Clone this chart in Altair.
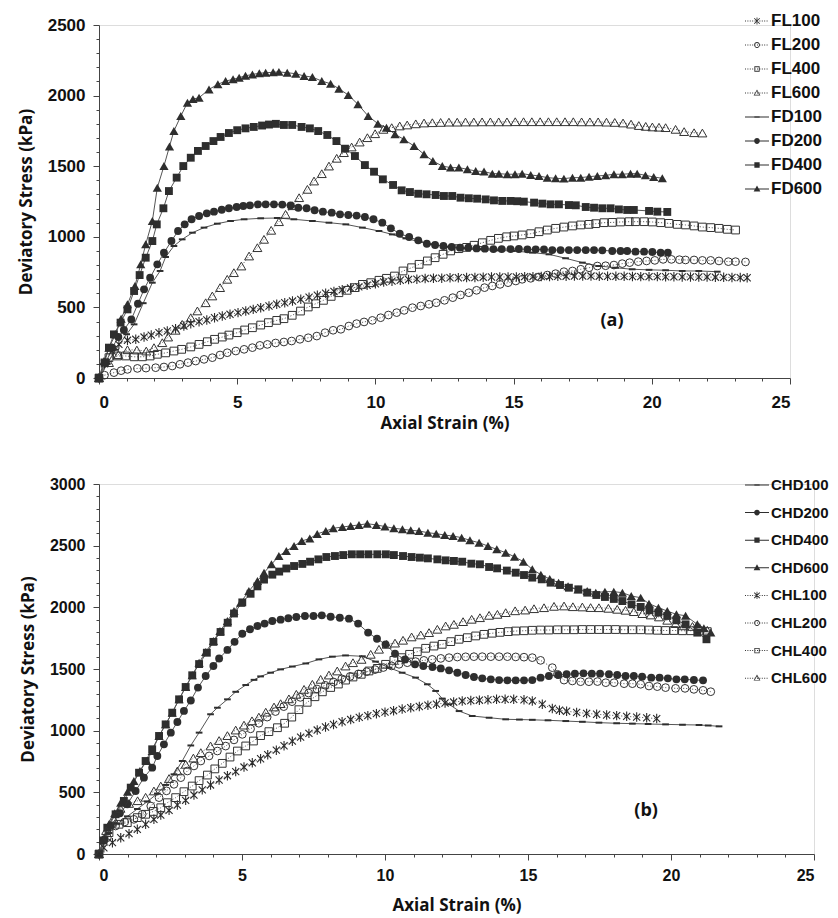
import altair as alt
import pandas as pd

# ---------------- data: panel (a) ----------------
SERIES_A = ["FL100", "FL200", "FL400", "FL600", "FD100", "FD200", "FD400", "FD600"]

FL100 = [(0,0),(0.2,100),(0.48,191),(0.72,238),(1.03,267),(1.33,274),(1.63,290),(1.89,304),(2.17,321),(2.47,333),(2.77,349),(3.07,368),(3.32,385),(3.62,399),(3.9,411),(4.18,427),(4.46,439),(4.74,451),(5.03,463),(5.31,475),(5.58,486),(5.85,498),(6.15,510),(6.43,522),(6.72,533),(7.0,545),(7.3,557),(7.6,572),(7.9,586),(8.2,600),(8.5,613),(8.8,625),(9.1,637),(9.4,645),(9.7,657),(10.0,667),(10.3,680),(10.6,686),(10.9,692),(11.2,698),(11.5,700),(11.8,705),(12.1,706),(12.4,707),(12.7,710),(13.0,710),(13.3,711),(13.6,712),(13.9,714),(14.2,715),(14.5,715),(14.8,716),(15.1,716),(15.4,718),(15.7,718),(16.0,719),(16.3,719),(16.6,720),(16.9,721),(17.2,722),(17.5,722),(17.8,722),(18.1,721),(18.4,720),(18.7,720),(19.0,720),(19.3,719),(19.6,718),(19.9,718),(20.2,718),(20.5,717),(20.8,717),(21.1,716),(21.4,716),(21.7,715),(22.0,715),(22.3,714),(22.6,713),(22.9,712),(23.2,711),(23.45,710)]
FL200 = [(0,0),(0.2,20),(0.54,38),(0.8,52),(1.03,61),(1.39,68),(1.7,70),(2.05,73),(2.35,78),(2.65,85),(2.93,97),(3.22,109),(3.5,120),(3.8,132),(4.1,144),(4.38,163),(4.64,179),(4.95,191),(5.25,203),(5.55,215),(5.82,231),(6.09,238),(6.39,248),(6.69,255),(6.97,262),(7.27,274),(7.57,285),(7.88,297),(8.18,321),(8.47,338),(8.75,345),(9.04,368),(9.32,385),(9.59,397),(9.89,408),(10.19,427),(10.47,446),(10.77,463),(11.04,479),(11.34,498),(11.64,510),(11.94,522),(12.2,533),(12.5,550),(12.8,569),(13.08,588),(13.38,604),(13.66,621),(13.95,640),(14.23,652),(14.51,663),(14.8,675),(15.08,687),(15.31,699),(15.62,706),(15.92,715),(16.22,729),(16.52,739),(16.82,753),(17.13,758),(17.43,770),(17.73,781),(18.03,793),(18.33,795),(18.63,800),(18.93,810),(19.2,817),(19.51,824),(19.81,829),(20.11,833),(20.41,840),(20.71,840),(21.0,838),(21.22,836),(21.53,836),(21.83,833),(22.13,833),(22.43,829),(22.77,824),(23.03,824),(23.39,822)]
FL400 = [(0,0),(0.36,144),(0.66,156),(0.96,156),(1.27,150),(1.57,150),(1.85,156),(2.11,168),(2.41,178),(2.71,191),(2.99,203),(3.32,220),(3.62,238),(3.92,257),(4.18,274),(4.46,290),(4.7,304),(5.0,321),(5.27,340),(5.55,356),(5.85,375),(6.13,392),(6.43,408),(6.69,420),(6.99,444),(7.29,474),(7.57,503),(7.84,526),(8.12,550),(8.4,578),(8.68,604),(8.98,621),(9.26,640),(9.53,663),(9.83,675),(10.13,692),(10.4,706),(10.69,722),(11.0,758),(11.31,781),(11.58,805),(11.88,829),(12.16,852),(12.45,876),(12.72,900),(13.02,916),(13.3,925),(13.57,940),(13.87,958),(14.17,975),(14.45,989),(14.75,1000),(15.01,1006),(15.31,1013),(15.62,1022),(15.92,1036),(16.22,1048),(16.52,1060),(16.82,1069),(17.13,1077),(17.43,1084),(17.73,1088),(17.97,1093),(18.27,1100),(18.57,1102),(18.87,1105),(19.18,1107),(19.41,1107),(19.72,1107),(20.02,1105),(20.32,1100),(20.62,1095),(20.92,1088),(21.22,1084),(21.53,1077),(21.83,1069),(22.13,1065),(22.43,1060),(22.73,1053),(23.03,1048)]
FL600 = [(0,0),(0.36,109),(0.7,165),(1.03,200),(1.37,198),(1.71,191),(1.99,215),(2.29,250),(2.5,290),(2.77,338),(3.01,380),(3.32,427),(3.56,475),(3.86,533),(4.1,581),(4.38,640),(4.64,699),(4.88,746),(5.15,793),(5.43,864),(5.73,923),(5.97,982),(6.23,1046),(6.51,1107),(6.75,1159),(7.0,1220),(7.24,1277),(7.54,1336),(7.78,1395),(8.06,1447),(8.32,1501),(8.6,1556),(8.86,1596),(9.14,1636),(9.43,1671),(9.71,1702),(9.99,1730),(10.29,1761),(10.59,1773),(10.88,1785),(11.15,1792),(11.46,1800),(11.76,1806),(12.06,1808),(12.36,1810),(12.66,1812),(12.96,1812),(13.26,1813),(13.56,1813),(13.86,1814),(14.16,1814),(14.46,1814),(14.76,1814),(15.06,1815),(15.36,1815),(15.66,1815),(15.96,1815),(16.26,1815),(16.56,1815),(16.86,1815),(17.16,1815),(17.46,1814),(17.76,1814),(18.06,1814),(18.36,1812),(18.66,1810),(18.96,1806),(19.25,1798),(19.53,1788),(19.78,1782),(20.02,1778),(20.26,1776),(20.5,1773),(20.86,1761),(21.17,1745),(21.53,1737),(21.83,1735)]
FD100 = [(0,0),(0.3,100),(0.6,200),(1.0,310),(1.27,380),(1.6,530),(1.93,675),(2.21,758),(2.41,857),(2.71,935),(3.01,982),(3.38,1029),(3.8,1065),(4.28,1093),(4.76,1112),(5.25,1124),(5.85,1131),(6.45,1133),(7.05,1124),(7.72,1112),(8.32,1100),(8.93,1088),(9.53,1065),(10.13,1041),(10.61,1017),(11.1,989),(11.58,965),(12.06,947),(12.54,930),(13.14,918),(13.75,911),(14.35,904),(14.95,900),(15.68,888),(16.28,876),(16.88,848),(17.49,817),(18.09,793),(18.69,781),(19.29,770),(19.9,766),(20.5,763),(21.1,758),(21.7,758),(22.37,753)]
FD200 = [(0,0),(0.25,110),(0.48,215),(0.7,290),(0.9,340),(1.17,415),(1.41,526),(1.63,628),(1.85,710),(2.11,805),(2.35,887),(2.62,970),(2.86,1041),(3.1,1088),(3.35,1124),(3.62,1147),(3.9,1166),(4.16,1178),(4.44,1192),(4.7,1202),(4.98,1211),(5.22,1218),(5.46,1223),(5.75,1230),(6.03,1230),(6.33,1230),(6.63,1228),(6.93,1222),(7.21,1206),(7.51,1202),(7.8,1188),(8.1,1178),(8.42,1171),(8.72,1159),(9.02,1154),(9.32,1150),(9.62,1140),(9.93,1124),(10.25,1100),(10.56,1060),(10.88,1022),(11.22,999),(11.55,975),(11.86,951),(12.16,942),(12.46,935),(12.76,928),(13.06,923),(13.36,923),(13.66,918),(13.96,916),(14.27,913),(14.57,913),(14.89,913),(15.19,914),(15.5,911),(15.8,911),(16.1,910),(16.4,906),(16.7,906),(17.0,906),(17.3,906),(17.61,906),(17.91,906),(18.21,904),(18.57,899),(18.87,899),(19.11,899),(19.41,895),(19.72,895),(20.02,892),(20.32,888),(20.58,888)]
FD400 = [(0,0),(0.2,110),(0.36,215),(0.54,309),(0.78,392),(1.03,486),(1.27,616),(1.47,729),(1.69,852),(1.93,970),(2.09,1088),(2.33,1202),(2.53,1324),(2.81,1419),(3.05,1501),(3.32,1560),(3.58,1608),(3.86,1643),(4.14,1678),(4.4,1707),(4.7,1735),(5.0,1755),(5.3,1768),(5.6,1778),(5.9,1788),(6.15,1795),(6.4,1800),(6.69,1792),(6.99,1792),(7.33,1778),(7.63,1768),(7.93,1749),(8.26,1721),(8.59,1678),(8.9,1624),(9.26,1572),(9.62,1508),(9.95,1461),(10.27,1407),(10.64,1367),(10.95,1329),(11.25,1317),(11.55,1305),(11.85,1301),(12.18,1296),(12.48,1289),(12.78,1289),(13.08,1277),(13.38,1273),(13.68,1270),(13.99,1265),(14.29,1258),(14.59,1254),(14.89,1254),(15.13,1252),(15.37,1249),(15.74,1242),(16.04,1235),(16.34,1230),(16.64,1230),(17.0,1225),(17.25,1223),(17.61,1211),(17.91,1206),(18.21,1202),(18.51,1202),(18.81,1194),(19.11,1190),(19.35,1190),(19.9,1183),(20.2,1178),(20.56,1176)]
FD600 = [(0,0),(0.18,120),(0.36,215),(0.6,309),(0.8,420),(1.03,522),(1.3,652),(1.51,805),(1.69,947),(1.93,1112),(2.11,1348),(2.35,1501),(2.55,1640),(2.71,1749),(2.96,1855),(3.2,1950),(3.4,1975),(3.62,1985),(3.98,2044),(4.3,2080),(4.58,2103),(4.85,2115),(5.07,2127),(5.3,2140),(5.55,2150),(5.8,2158),(6.03,2162),(6.3,2165),(6.51,2168),(6.81,2162),(7.12,2155),(7.42,2139),(7.72,2131),(8.06,2103),(8.38,2084),(8.68,2049),(9.02,2004),(9.37,1938),(9.74,1855),(10.09,1801),(10.4,1773),(10.71,1726),(11.03,1690),(11.4,1643),(11.76,1584),(12.08,1537),(12.42,1501),(12.72,1490),(13.02,1490),(13.33,1478),(13.63,1466),(13.93,1462),(14.23,1447),(14.47,1447),(14.77,1443),(15.05,1443),(15.31,1447),(15.62,1438),(15.92,1431),(16.22,1419),(16.52,1414),(16.82,1412),(17.13,1419),(17.43,1419),(17.73,1426),(18.03,1431),(18.33,1435),(18.63,1443),(18.93,1443),(19.23,1447),(19.47,1447),(19.77,1435),(20.07,1424),(20.38,1414)]

# ---------------- data: panel (b) ----------------
SERIES_B = ["CHD100", "CHD200", "CHD400", "CHD600", "CHL100", "CHL200", "CHL400", "CHL600"]

CHD100 = [(0,0),(0.35,170),(0.64,245),(0.99,305),(1.34,365),(1.69,425),(2.04,490),(2.33,560),(2.62,646),(2.91,754),(3.21,880),(3.5,984),(3.9,1133),(4.14,1186),(4.49,1254),(4.78,1315),(5.13,1370),(5.42,1412),(5.65,1440),(6.0,1470),(6.35,1497),(6.76,1520),(7.23,1545),(7.69,1578),(8.16,1600),(8.62,1610),(9.21,1603),(9.67,1560),(10.14,1511),(10.6,1470),(11.07,1430),(11.48,1376),(11.77,1322),(12.0,1260),(12.24,1214),(12.59,1159),(13.05,1119),(13.64,1105),(14.22,1092),(14.7,1090),(15.15,1088),(15.7,1084),(16.32,1078),(16.9,1072),(17.48,1065),(18.1,1060),(18.65,1057),(19.2,1054),(19.81,1051),(20.4,1048),(20.98,1046),(21.3,1042),(21.68,1035)]
CHD200 = [(0,0),(0.2,120),(0.41,230),(0.73,330),(0.99,403),(1.28,511),(1.57,619),(1.86,700),(2.04,795),(2.27,889),(2.51,984),(2.74,1070),(2.97,1160),(3.21,1245),(3.46,1349),(3.73,1443),(4.0,1524),(4.2,1585),(4.49,1655),(4.74,1720),(5.01,1786),(5.28,1822),(5.54,1849),(5.79,1868),(6.06,1889),(6.35,1900),(6.62,1911),(6.9,1922),(7.2,1930),(7.5,1930),(7.79,1935),(8.1,1924),(8.42,1916),(8.74,1908),(9.06,1868),(9.41,1795),(9.72,1745),(10.02,1700),(10.35,1624),(10.7,1578),(11.05,1538),(11.34,1524),(11.66,1516),(11.95,1505),(12.24,1489),(12.53,1470),(12.82,1451),(13.11,1435),(13.4,1424),(13.7,1416),(13.99,1410),(14.28,1408),(14.57,1408),(14.86,1408),(15.15,1410),(15.44,1430),(15.73,1443),(16.06,1451),(16.35,1457),(16.64,1462),(16.94,1465),(17.23,1462),(17.52,1462),(17.83,1457),(18.12,1451),(18.41,1443),(18.7,1443),(18.99,1438),(19.31,1430),(19.6,1430),(19.89,1424),(20.19,1416),(20.48,1416),(20.8,1411),(21.12,1408)]
CHD400 = [(0,0),(0.15,110),(0.29,213),(0.58,322),(0.87,430),(1.11,538),(1.4,659),(1.63,754),(1.86,849),(2.1,957),(2.33,1051),(2.56,1146),(2.8,1254),(3.03,1354),(3.26,1449),(3.5,1540),(3.77,1632),(4.0,1720),(4.25,1800),(4.5,1875),(4.72,1950),(5.01,2040),(5.3,2110),(5.54,2170),(5.77,2225),(6.06,2265),(6.3,2290),(6.55,2315),(6.82,2335),(7.11,2352),(7.38,2370),(7.67,2389),(7.95,2408),(8.25,2416),(8.54,2424),(8.84,2430),(9.13,2430),(9.42,2430),(9.73,2430),(10.03,2430),(10.31,2424),(10.63,2416),(10.93,2408),(11.22,2403),(11.5,2397),(11.83,2389),(12.12,2381),(12.41,2376),(12.7,2370),(13.02,2354),(13.32,2349),(13.64,2327),(13.92,2316),(14.26,2298),(14.57,2281),(14.86,2262),(15.15,2241),(15.48,2227),(15.79,2200),(16.12,2181),(16.43,2159),(16.76,2146),(17.07,2119),(17.39,2100),(17.69,2084),(18.0,2068),(18.3,2051),(18.62,2024),(18.94,2003),(19.25,1976),(19.56,1957),(19.87,1930),(20.19,1895),(20.51,1862),(20.92,1795),(21.24,1741)]
CHD600 = [(0,0),(0.15,120),(0.35,241),(0.55,330),(0.76,416),(1.0,505),(1.22,592),(1.43,673),(1.67,754),(1.86,835),(2.1,957),(2.33,1051),(2.56,1146),(2.8,1254),(3.03,1354),(3.26,1449),(3.5,1551),(3.73,1638),(4.0,1727),(4.23,1808),(4.49,1889),(4.72,1970),(4.95,2038),(5.24,2132),(5.54,2214),(5.77,2281),(6.03,2349),(6.29,2416),(6.55,2457),(6.82,2497),(7.09,2538),(7.37,2558),(7.63,2595),(7.93,2619),(8.19,2641),(8.51,2651),(8.8,2660),(9.09,2668),(9.38,2678),(9.7,2668),(10.0,2655),(10.31,2641),(10.61,2633),(10.9,2625),(11.19,2619),(11.5,2605),(11.79,2597),(12.09,2586),(12.38,2578),(12.68,2565),(12.97,2543),(13.29,2524),(13.6,2497),(13.91,2470),(14.22,2443),(14.53,2410),(14.84,2370),(15.15,2308),(15.45,2265),(15.76,2230),(16.07,2200),(16.4,2170),(16.75,2145),(17.07,2132),(17.37,2119),(17.69,2127),(18.0,2127),(18.3,2119),(18.61,2092),(18.94,2078),(19.23,2030),(19.56,1997),(19.87,1970),(20.19,1943),(20.51,1932),(20.92,1862),(21.15,1830),(21.39,1795)]
CHL100 = [(0,0),(0.17,51),(0.47,92),(0.76,132),(1.05,165),(1.34,200),(1.63,241),(1.92,281),(2.16,316),(2.45,354),(2.74,397),(3.03,435),(3.32,478),(3.61,520),(3.9,560),(4.2,600),(4.49,635),(4.78,668),(5.07,705),(5.36,740),(5.65,772),(5.9,805),(6.2,842),(6.47,878),(6.76,915),(7.05,948),(7.34,978),(7.63,1005),(7.92,1030),(8.2,1050),(8.5,1072),(8.8,1090),(9.1,1108),(9.4,1122),(9.7,1138),(10.0,1150),(10.3,1162),(10.6,1175),(10.9,1186),(11.2,1196),(11.5,1206),(11.8,1215),(12.1,1224),(12.4,1232),(12.7,1240),(13.0,1244),(13.3,1247),(13.6,1250),(13.9,1254),(14.2,1254),(14.5,1254),(14.86,1250),(15.15,1241),(15.5,1214),(15.85,1180),(16.1,1166),(16.35,1158),(16.7,1148),(17.05,1140),(17.4,1133),(17.75,1127),(18.1,1122),(18.45,1116),(18.8,1110),(19.15,1104),(19.5,1098)]
CHL200 = [(0,0),(0.29,132),(0.58,227),(0.9,260),(1.22,281),(1.51,322),(1.81,389),(2.1,457),(2.36,512),(2.62,565),(2.86,619),(3.09,673),(3.32,714),(3.56,754),(3.85,795),(4.14,835),(4.43,875),(4.72,925),(5.01,970),(5.3,1015),(5.59,1060),(5.88,1110),(6.17,1155),(6.46,1195),(6.75,1235),(7.04,1270),(7.33,1305),(7.62,1338),(7.91,1368),(8.2,1395),(8.49,1420),(8.78,1440),(9.07,1460),(9.36,1478),(9.65,1495),(9.94,1512),(10.23,1525),(10.49,1538),(10.78,1551),(11.07,1560),(11.36,1570),(11.65,1578),(11.95,1586),(12.24,1592),(12.53,1597),(12.82,1599),(13.11,1600),(13.4,1600),(13.7,1600),(13.99,1600),(14.28,1600),(14.57,1598),(14.86,1596),(15.15,1592),(15.44,1570),(15.85,1511),(16.03,1457),(16.26,1410),(16.55,1403),(16.84,1397),(17.13,1397),(17.43,1398),(17.72,1389),(18.01,1389),(18.36,1381),(18.65,1381),(18.94,1376),(19.23,1362),(19.52,1357),(19.81,1349),(20.16,1343),(20.49,1343),(20.8,1335),(21.12,1327),(21.39,1316)]
CHL400 = [(0,0),(0.35,173),(0.7,241),(0.99,254),(1.34,295),(1.63,322),(1.9,345),(2.16,375),(2.39,416),(2.68,457),(2.97,505),(3.26,551),(3.5,595),(3.79,640),(4.05,690),(4.31,735),(4.58,786),(4.84,835),(5.13,876),(5.4,916),(5.65,960),(5.94,992),(6.24,1024),(6.49,1060),(6.74,1110),(6.99,1170),(7.28,1230),(7.55,1275),(7.81,1315),(8.1,1350),(8.37,1378),(8.62,1410),(8.88,1435),(9.17,1457),(9.44,1484),(9.73,1505),(10.02,1538),(10.31,1570),(10.58,1592),(10.86,1619),(11.13,1640),(11.42,1668),(11.71,1686),(12.0,1700),(12.3,1722),(12.59,1741),(12.88,1754),(13.17,1768),(13.46,1781),(13.75,1790),(14.02,1797),(14.31,1803),(14.57,1808),(14.86,1810),(15.15,1814),(15.44,1816),(15.73,1816),(16.03,1818),(16.32,1818),(16.61,1818),(16.9,1820),(17.19,1820),(17.48,1820),(17.77,1820),(18.06,1820),(18.36,1818),(18.65,1818),(18.94,1818),(19.23,1816),(19.52,1814),(19.81,1812),(20.1,1812),(20.4,1810),(20.69,1810),(20.98,1808),(21.27,1803)]
CHL600 = [(0,0),(0.25,190),(0.5,290),(0.75,370),(1.05,410),(1.35,432),(1.63,460),(1.92,511),(2.16,551),(2.45,612),(2.74,673),(3.03,727),(3.3,778),(3.56,822),(3.9,876),(4.2,920),(4.49,960),(4.78,1005),(5.07,1045),(5.35,1080),(5.59,1110),(5.83,1150),(6.12,1192),(6.35,1219),(6.64,1258),(6.9,1295),(7.17,1335),(7.46,1376),(7.75,1416),(8.04,1451),(8.33,1484),(8.62,1524),(8.88,1551),(9.18,1578),(9.5,1619),(9.79,1660),(10.06,1700),(10.35,1710),(10.63,1733),(10.93,1760),(11.25,1776),(11.54,1795),(11.83,1822),(12.12,1849),(12.41,1862),(12.73,1884),(13.03,1903),(13.32,1916),(13.64,1935),(13.93,1943),(14.22,1957),(14.55,1972),(14.9,1978),(15.21,1989),(15.56,1997),(15.91,2008),(16.26,2011),(16.57,2005),(16.9,2003),(17.19,1998),(17.48,1997),(17.81,1992),(18.12,1984),(18.41,1976),(18.7,1965),(19.0,1949),(19.29,1938),(19.58,1922),(19.87,1895),(20.16,1868),(20.45,1850),(20.75,1845),(21.0,1835),(21.27,1814)]

# axis ticks and annotations
X_TICKS = [0, 1, 2, 3, 4, 5, 6, 7, 8, 9, 10, 11, 12, 13, 14, 15, 16, 17, 18, 19, 20, 21, 22, 23, 24, 25]
Y_TICKS_A = list(range(0, 2501, 100))
Y_TICKS_B = list(range(0, 3001, 100))
NOTE_A = {"strain": [18.56], "stress": [404], "label": ["(a)"]}
NOTE_B = {"strain": [19.13], "stress": [349], "label": ["(b)"]}

# marker style per series: (marker, filled, dotted line)
STYLE = {
    "FL100": ("star", False, True), "FL200": ("circle", False, True),
    "FL400": ("square", False, True), "FL600": ("triangle", False, True),
    "FD100": ("dash", True, False), "FD200": ("circle", True, False),
    "FD400": ("square", True, False), "FD600": ("triangle", True, False),
    "CHD100": ("dash", True, False), "CHD200": ("circle", True, False),
    "CHD400": ("square", True, False), "CHD600": ("triangle", True, False),
    "CHL100": ("star", False, True), "CHL200": ("circle", False, True),
    "CHL400": ("square", False, True), "CHL600": ("triangle", False, True),
}

STAR = "M0,-1L0,1M-0.75,-0.75L0.75,0.75M-0.75,0.75L0.75,-0.75"
PLOT_SHAPE = {"star": STAR, "circle": "circle", "square": "square",
              "triangle": "triangle-up", "dash": "stroke"}


# ---- legend glyphs: line + marker drawn with filled outlines only (unit box -1..1) ----
def _rect(x0, y0, x1, y1):
    return "M%.3f,%.3fL%.3f,%.3fL%.3f,%.3fL%.3f,%.3fZ" % (x0, y0, x1, y0, x1, y1, x0, y1)


def _bar(xa, ya, xb, yb, w=0.035):
    dx, dy = xb - xa, yb - ya
    ln = (dx * dx + dy * dy) ** 0.5
    nx, ny = -dy / ln * w, dx / ln * w
    return "M%.3f,%.3fL%.3f,%.3fL%.3f,%.3fL%.3f,%.3fZ" % (
        xa + nx, ya + ny, xb + nx, yb + ny, xb - nx, yb - ny, xa - nx, ya - ny)


LINE_SOLID = _rect(-1, -0.04, 1, 0.04)
LINE_DOTTED = "".join(_rect(-1 + 0.2 * i, -0.04, -1 + 0.2 * i + 0.08, 0.04) for i in range(10))
LEG_FILLED = {
    "circle": "M0.24,0A0.24,0.24 0 1,1 -0.24,0A0.24,0.24 0 1,1 0.24,0Z",
    "square": _rect(-0.22, -0.22, 0.22, 0.22),
    "triangle": "M0,-0.3L0.28,0.2L-0.28,0.2Z",
    "dash": _rect(-0.22, -0.07, 0.22, 0.07),
}
LEG_OPEN = {
    "circle": "M0.24,0A0.24,0.24 0 1,1 -0.24,0A0.24,0.24 0 1,1 0.24,0Z"
              "M0.17,0A0.17,0.17 0 1,0 -0.17,0A0.17,0.17 0 1,0 0.17,0Z",
    "square": "M-0.22,-0.22L0.22,-0.22L0.22,0.22L-0.22,0.22Z"
              "M-0.15,-0.15L-0.15,0.15L0.15,0.15L0.15,-0.15Z",
    "triangle": "M0,-0.3L0.28,0.2L-0.28,0.2Z"
                "M0,-0.17L-0.18,0.14L0.18,0.14Z",
    "star": _bar(0, -0.3, 0, 0.3) + _bar(-0.23, -0.23, 0.23, 0.23) + _bar(-0.23, 0.23, 0.23, -0.23),
}

LABEL_FONT = "Liberation Sans"
TITLE_FONT = "Open Sans"
INK = "#2e2e2e"


def legend_glyph(n):
    marker, filled, dotted = STYLE[n]
    line = LINE_DOTTED if dotted else LINE_SOLID
    mark = LEG_FILLED[marker] if (filled or marker == "dash") else LEG_OPEN[marker]
    return line + mark


def to_frame(names, lists):
    rows = []
    for n, pts in zip(names, lists):
        for x, y in pts:
            rows.append({"series": n, "strain": x, "stress": y})
    return pd.DataFrame(rows)


def panel(df, names, width, height, ymax, yticks, note, leg_x, leg_y, row_pad,
          leg_font, tick_font, x_label_pad, x_title_pad):
    x_axis = alt.Axis(values=X_TICKS, title="Axial Strain (%)", grid=False, format="d",
                      labelExpr="datum.value % 5 === 0 ? datum.label : ''",
                      tickSize={"condition": {"test": "datum.value % 5 === 0", "value": 6}, "value": 3},
                      labelOverlap=False, labelFont=LABEL_FONT, labelFontWeight="bold",
                      labelFontSize=tick_font, labelColor="#111", labelPadding=x_label_pad,
                      titleFont=TITLE_FONT, titleFontWeight="bold", titleFontSize=17,
                      titleColor="#111", titlePadding=x_title_pad,
                      domainColor="#444", tickColor="#444")
    y_axis = alt.Axis(values=yticks, title="Deviatory Stress (kPa)", grid=False, format="d",
                      labelExpr="datum.value % 500 === 0 ? datum.label : ''",
                      tickSize={"condition": {"test": "datum.value % 500 === 0", "value": 6}, "value": 3},
                      labelOverlap=False, labelFont=LABEL_FONT, labelFontWeight="bold",
                      labelFontSize=tick_font, labelColor="#111", labelPadding=8,
                      titleFont=TITLE_FONT, titleFontWeight="bold", titleFontSize=17,
                      titleColor="#111", titlePadding=12,
                      domainColor="#444", tickColor="#444")
    X = alt.X("strain:Q", scale=alt.Scale(domain=[0, 25], nice=False), axis=x_axis)
    Y = alt.Y("stress:Q", scale=alt.Scale(domain=[0, ymax], nice=False), axis=y_axis)

    base = alt.Chart(df)
    dotted_names = [n for n in names if STYLE[n][2]]
    solid_names = [n for n in names if not STYLE[n][2]]

    layers = [
        base.transform_filter(alt.FieldOneOfPredicate(field="series", oneOf=dotted_names))
        .mark_line(strokeWidth=1, color="#666", strokeDash=[1.2, 1.8])
        .encode(x=X, y=Y, detail="series:N"),
        base.transform_filter(alt.FieldOneOfPredicate(field="series", oneOf=solid_names))
        .mark_line(strokeWidth=1, color="#555")
        .encode(x=X, y=Y, detail="series:N"),
    ]
    for n in names:
        marker, filled, _ = STYLE[n]
        shape = PLOT_SHAPE[marker]
        sub = base.transform_filter(alt.datum.series == n)
        if marker == "dash":
            m = sub.mark_point(shape=shape, filled=False, color=INK, strokeWidth=2,
                               size=45, opacity=1)
        elif filled:
            m = sub.mark_point(shape=shape, filled=True, color=INK,
                               size=85 if marker == "triangle" else 62, opacity=1)
        elif marker == "star":
            m = sub.mark_point(shape=shape, filled=False, color="#2a2a2a", strokeWidth=1.1,
                               size=90, opacity=1)
        else:
            m = sub.mark_point(shape=shape, filled=False, color="#333", strokeWidth=1,
                               size=80 if marker == "triangle" else 60, opacity=1)
        layers.append(m.encode(x=X, y=Y))

    legend = alt.Legend(title=None, orient="none", legendX=leg_x, legendY=leg_y,
                        symbolSize=576, symbolFillColor=INK, symbolStrokeWidth=0,
                        labelFont=LABEL_FONT, labelFontWeight="bold", labelFontSize=leg_font,
                        labelColor="#111", labelOffset=2, clipHeight=24, rowPadding=row_pad,
                        padding=0, symbolOpacity=1)
    leg_layer = base.transform_filter("false").mark_point(filled=True, color=INK).encode(
        x=X, y=Y,
        shape=alt.Shape("series:N", legend=legend,
                        scale=alt.Scale(domain=names, range=[legend_glyph(n) for n in names])))
    layers.append(leg_layer)

    note_layer = alt.Chart(pd.DataFrame(note)).mark_text(
        font=TITLE_FONT, fontWeight="bold", fontSize=18, color="#111").encode(
        x=X, y=Y, text="label:N")
    layers.append(note_layer)

    return alt.layer(*layers).properties(width=width, height=height)


df_a = to_frame(SERIES_A, [FL100, FL200, FL400, FL600, FD100, FD200, FD400, FD600])
df_b = to_frame(SERIES_B, [CHD100, CHD200, CHD400, CHD600, CHL100, CHL200, CHL400, CHL600])

chart_a = panel(df_a, SERIES_A, 691, 353, 2500, Y_TICKS_A, NOTE_A, 646, -16, 0, 17, 17, 10, 5)
chart_b = panel(df_b, SERIES_B, 715, 370, 3000, Y_TICKS_B, NOTE_B, 646, -11, 3.6, 15, 16, 7, 14)

chart = alt.vconcat(chart_a, chart_b, spacing=40).resolve_scale(
    shape="independent"
).properties(
    padding={"left": 8, "top": 0, "right": 0, "bottom": 0}
).configure_view(strokeWidth=0).configure(background="white")

chart.save("out.html", embed_options={"renderer": "svg", "actions": False})
